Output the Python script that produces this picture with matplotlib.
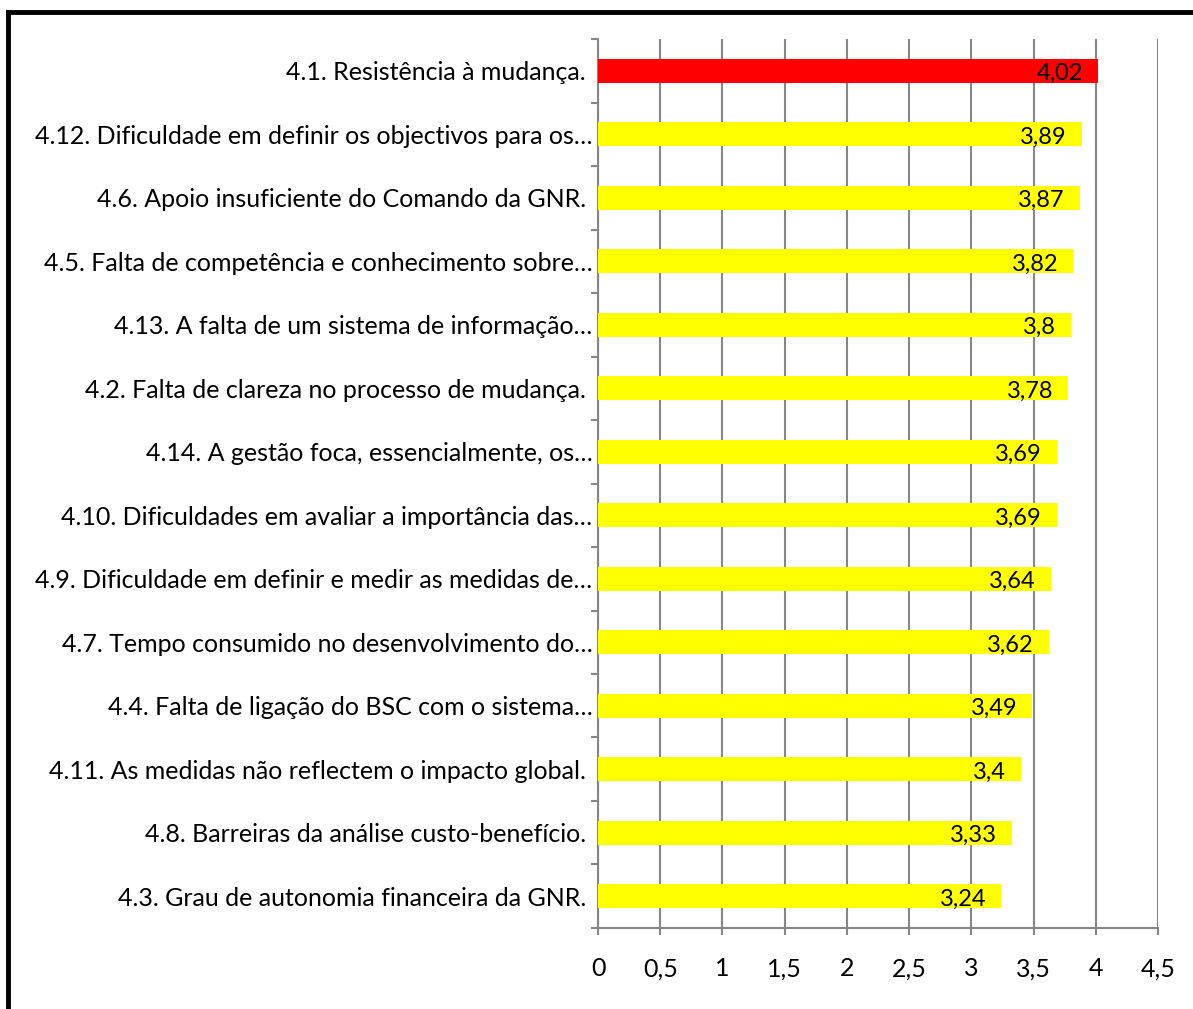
import matplotlib.pyplot as plt
from matplotlib.lines import Line2D
import numpy as np

# dados (de cima para baixo)
labels = [
    "4.1. Resistência à mudança. ",
    "4.12. Dificuldade em definir os objectivos para os…",
    "4.6. Apoio insuficiente do Comando da GNR. ",
    "4.5. Falta de competência e conhecimento sobre…",
    "4.13. A falta de um sistema de informação…",
    "4.2. Falta de clareza no processo de mudança. ",
    "4.14. A gestão foca, essencialmente, os…",
    "4.10. Dificuldades em avaliar a importância das…",
    "4.9. Dificuldade em definir e medir as medidas de…",
    "4.7. Tempo consumido no desenvolvimento do…",
    "4.4. Falta de ligação do BSC com o sistema…",
    "4.11. As medidas não reflectem o impacto global. ",
    "4.8. Barreiras da análise custo-benefício. ",
    "4.3. Grau de autonomia financeira da GNR. ",
]
values = [4.02, 3.89, 3.87, 3.82, 3.8, 3.78, 3.69, 3.69, 3.64, 3.62, 3.49, 3.4, 3.33, 3.24]
value_text = ["4,02", "3,89", "3,87", "3,82", "3,8", "3,78", "3,69", "3,69",
              "3,64", "3,62", "3,49", "3,4", "3,33", "3,24"]
x_ticks = [0, 0.5, 1, 1.5, 2, 2.5, 3, 3.5, 4, 4.5]
x_tick_labels = ["0", "0,5", "1", "1,5", "2", "2,5", "3", "3,5", "4", "4,5"]

plt.rcParams['font.family'] = ['Lato', 'DejaVu Sans']
grey = '#868686'

fig = plt.figure(figsize=(11.93, 10.09), dpi=100)
ax = fig.add_axes([0.5013, 0.0803, 0.4694, 0.881])

n = len(labels)
y = np.arange(n)
colors = ['#ff0000'] + ['#ffff00'] * (n - 1)
ax.barh(y, values, height=0.38, color=colors, zorder=3)

for yi, v, t in zip(y, values, value_text):
    ax.annotate(t, xy=(v, yi), xytext=(-11, -2), textcoords='offset points',
                ha='right', va='center', fontsize=17, color='black', zorder=4)

ax.set_xlim(0, 4.5)
ax.set_ylim(n - 0.5, -0.5)
ax.set_xticks(x_ticks)
ax.set_xticklabels(x_tick_labels, fontsize=18)
ax.set_yticks(y)
ax.set_yticklabels(labels, fontsize=18)
ax.set_yticks(np.arange(n + 1) - 0.5, minor=True)

ax.tick_params(axis='y', which='major', length=0, pad=4)
ax.tick_params(axis='y', which='minor', length=5, width=1.5, color=grey, direction='out')
ax.tick_params(axis='x', length=5, width=1.5, color=grey, direction='out', pad=16)

ax.xaxis.grid(True, color=grey, linewidth=1.5, zorder=0)
ax.set_axisbelow(True)
for s in ['top', 'right']:
    ax.spines[s].set_visible(False)
for s in ['left', 'bottom']:
    ax.spines[s].set_color(grey)
    ax.spines[s].set_linewidth(1.5)

# moldura preta (lado esquerdo e topo)
fig.add_artist(Line2D([0.0063, 0.0063], [0.0, 0.9886], transform=fig.transFigure,
                      color='black', linewidth=3.5, solid_capstyle='projecting'))
fig.add_artist(Line2D([0.0063, 1.0], [0.9886, 0.9886], transform=fig.transFigure,
                      color='black', linewidth=3.5, solid_capstyle='projecting'))

fig.savefig('out.png', dpi=100)
